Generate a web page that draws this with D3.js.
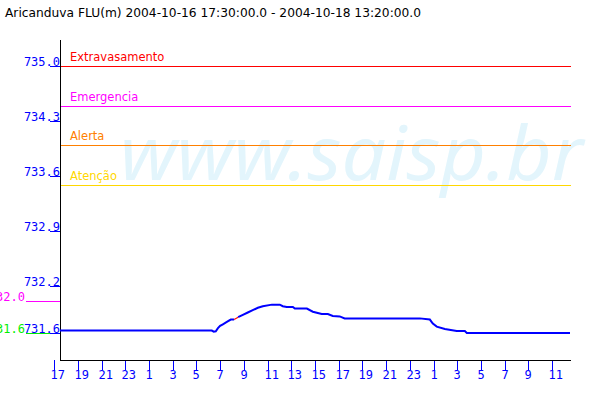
<!DOCTYPE html>
<html><head><meta charset="utf-8">
<script src="https://cdn.jsdelivr.net/npm/d3@7"></script>
<style>body{margin:0;background:#fff}svg{display:block}</style>
</head><body><svg id="c" width="600" height="400"></svg>
<script>
const title = "Aricanduva FLU(m) 2004-10-16 17:30:00.0 - 2004-10-18 13:20:00.0";
const times = ["2004-10-16 17:30","2004-10-17 06:18","2004-10-17 06:28","2004-10-17 06:38","2004-10-17 06:49","2004-10-17 07:00","2004-10-17 07:14","2004-10-17 07:34","2004-10-17 07:54","2004-10-17 08:11","2004-10-17 08:31","2004-10-17 08:55","2004-10-17 09:20","2004-10-17 09:45","2004-10-17 10:11","2004-10-17 10:36","2004-10-17 11:22","2004-10-17 12:02","2004-10-17 12:17","2004-10-17 12:37","2004-10-17 13:08","2004-10-17 13:18","2004-10-17 14:19","2004-10-17 14:49","2004-10-17 15:34","2004-10-17 16:05","2004-10-17 16:30","2004-10-17 17:05","2004-10-17 17:30","2004-10-17 23:50","2004-10-18 00:41","2004-10-18 00:56","2004-10-18 01:16","2004-10-18 01:57","2004-10-18 02:57","2004-10-18 03:38","2004-10-18 03:48","2004-10-18 12:30"];
const levels = [731.63,731.63,731.615,731.62,731.66,731.69,731.71,731.74,731.77,731.77,731.80,731.83,731.86,731.89,731.92,731.94,731.96,731.96,731.94,731.93,731.93,731.91,731.91,731.87,731.84,731.84,731.815,731.81,731.785,731.785,731.77,731.72,731.68,731.65,731.625,731.625,731.60,731.60];
const gapTimes = ["2004-10-17 08:11","2004-10-17 08:31"];
const yTicks = [735.0,734.3,733.6,732.9,732.2,731.6];
const thresholdNames = ["Extravasamento","Emergencia","Alerta","Atenção"];
const thresholdValues = [735.0,734.49,733.99,733.48];
const thresholdColors = ["#ff0000","#ff00ff","#ff8000","#ffd700"];
const sideNames = ["732.0","731.6"];
const sideValues = [732.0,731.6];
const sideColors = ["#ff00ff","#00ee00"];

const parse = d3.timeParse("%Y-%m-%d %H:%M");
const data = times.map((t,i)=>({t:parse(t),v:levels[i]}));
const g0 = parse(gapTimes[0]), g1 = parse(gapTimes[1]);
const px = v => Math.round(v) + 0.5;

const svg = d3.select("#c");
const x = d3.scaleTime().domain([parse("2004-10-16 17:30"), parse("2004-10-18 12:30")]).range([60,570]);
const y = d3.scaleLinear().domain([731.255,735.33]).range([360,40]);

// watermark
svg.append("text").attr("x",120).attr("y",180).attr("font-family","Noto Sans").attr("font-style","italic")
  .attr("font-size",74).attr("fill","#e3f5fc").attr("textLength",463).attr("lengthAdjust","spacingAndGlyphs").text("www.saisp.br");

// title
svg.append("text").attr("x",5).attr("y",17).attr("font-family","DejaVu Sans").attr("font-size",11.5)
  .attr("textLength",416).attr("lengthAdjust","spacingAndGlyphs").attr("fill","#000").text(title);

// thresholds
thresholdValues.forEach((v,i)=>{
  svg.append("line").attr("x1",60).attr("x2",571).attr("y1",px(y(v))).attr("y2",px(y(v)))
    .attr("stroke",thresholdColors[i]).attr("stroke-width",1);
  svg.append("text").attr("x",70).attr("y",y(v)-5).attr("font-family","DejaVu Sans").attr("font-size",11.5)
    .attr("fill",thresholdColors[i]).text(thresholdNames[i]);
});

// side marks
sideValues.forEach((v,i)=>{
  svg.append("line").attr("x1",26).attr("x2",60).attr("y1",px(y(v))).attr("y2",px(y(v)))
    .attr("stroke",sideColors[i]);
  svg.append("text").attr("x",25).attr("y",y(v)).attr("text-anchor","end").attr("font-family","DejaVu Sans Mono")
    .attr("font-size",12).attr("fill",sideColors[i]).text(sideNames[i]);
});

// y axis
const yAxis = d3.axisLeft(y).tickValues(yTicks).tickSize(10).tickFormat(d3.format(".1f"));
const ya = svg.append("g").attr("transform","translate(60,0)").call(yAxis);
ya.select(".domain").remove();
ya.selectAll(".tick").attr("transform",d=>`translate(0,${px(y(d))})`);
ya.selectAll(".tick line").attr("stroke","#0000ff");
ya.selectAll(".tick text").attr("fill","#0000ff").attr("x",0).attr("dy","-0.5").attr("font-family","DejaVu Sans Mono").attr("font-size",12);
svg.append("line").attr("x1",60.5).attr("x2",60.5).attr("y1",40).attr("y2",361).attr("stroke","#000");

// x axis
const xt = d3.timeHour.range(parse("2004-10-16 17:00"), parse("2004-10-18 12:00"), 2);
const xAxis = d3.axisBottom(x).tickValues(xt).tickSize(10).tickFormat(d3.timeFormat("%-H"));
const xa = svg.append("g").attr("transform","translate(0,360)").call(xAxis);
xa.select(".domain").remove();
xa.selectAll(".tick").attr("transform",d=>`translate(${px(x(d))},0)`);
xa.selectAll(".tick line").attr("stroke","#0000ff");
xa.selectAll(".tick text").attr("fill","#0000ff").attr("text-anchor","start").attr("x",-4).attr("y",10).attr("dy","0.71em")
  .attr("font-family","DejaVu Sans Mono").attr("font-size",12);
svg.append("line").attr("x1",60).attr("x2",571).attr("y1",360.5).attr("y2",360.5).attr("stroke","#000");

// data
const line = d3.line().x(d=>x(d.t)).y(d=>y(d.v));
const seg1 = data.filter(d=>d.t<=g0), seg2 = data.filter(d=>d.t>=g1), gap = data.filter(d=>d.t>=g0 && d.t<=g1);
[seg1,seg2].forEach(s=>svg.append("path").datum(s).attr("d",line).attr("fill","none").attr("stroke","#0000ff").attr("stroke-width",2));
svg.append("path").datum(gap).attr("d",line).attr("fill","none").attr("stroke","#ff0000").attr("stroke-width",1.2);
</script></body></html>
